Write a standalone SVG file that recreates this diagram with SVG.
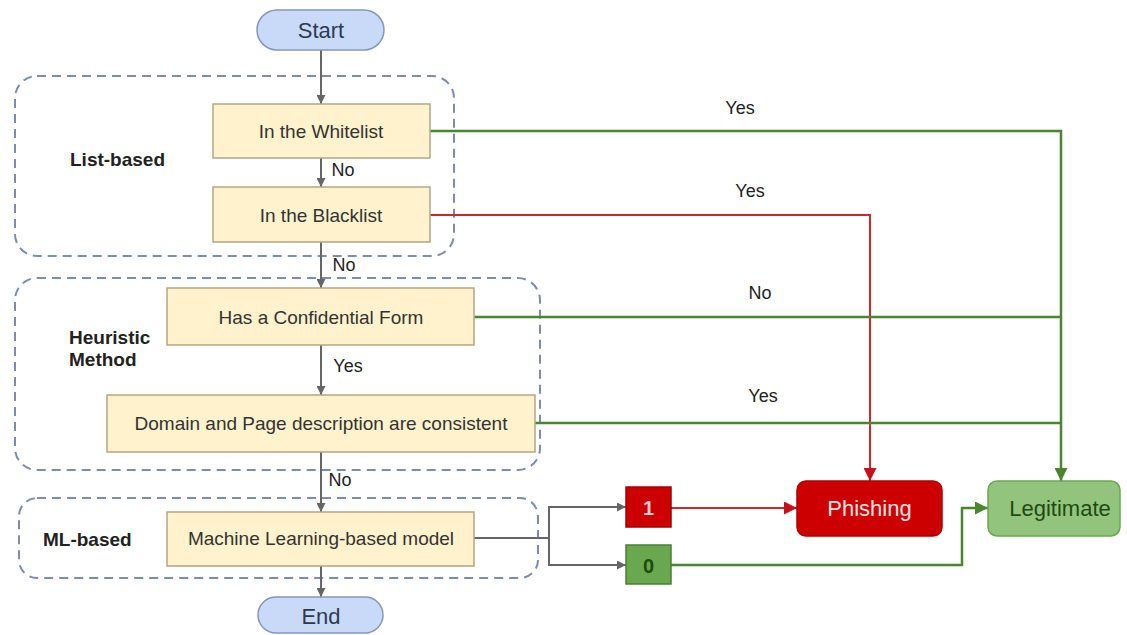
<svg xmlns="http://www.w3.org/2000/svg" width="1127" height="635" viewBox="0 0 1127 635">
  <style>
    text { font-family: "Liberation Sans", Arial, sans-serif; }
    .group { fill: none; stroke: #7d8cab; stroke-width: 2; stroke-dasharray: 9 6; }
    .step { fill: #fff2cc; stroke: #b3a785; stroke-width: 1.5; }
    .term { fill: #c9daf8; stroke: #8496bb; stroke-width: 1.5; }
    .step-text { font-size: 19px; fill: #333; text-anchor: middle; dominant-baseline: central; }
    .term-text { font-size: 22px; fill: #2b3a55; text-anchor: middle; dominant-baseline: central; }
    .group-text { font-size: 19px; font-weight: bold; fill: #222; }
    .label { font-size: 18px; fill: #222; text-anchor: middle; dominant-baseline: central; }
    .flow { fill: none; stroke: #666; stroke-width: 2; }
    .ok { fill: none; stroke: #4a8530; stroke-width: 2.5; }
    .bad { fill: none; stroke: #d3262b; stroke-width: 2; }
  </style>
  <defs>
    <marker id="arrow-gray" viewBox="0 0 10 10" refX="10" refY="5" markerWidth="9" markerHeight="9" markerUnits="userSpaceOnUse" orient="auto">
      <path d="M0,0 L10,5 L0,10 z" fill="#666"/>
    </marker>
    <marker id="arrow-green" viewBox="0 0 10 10" refX="10" refY="5" markerWidth="13" markerHeight="13" markerUnits="userSpaceOnUse" orient="auto">
      <path d="M0,0 L10,5 L0,10 z" fill="#4a8530"/>
    </marker>
    <marker id="arrow-red" viewBox="0 0 10 10" refX="10" refY="5" markerWidth="13" markerHeight="13" markerUnits="userSpaceOnUse" orient="auto">
      <path d="M0,0 L10,5 L0,10 z" fill="#c8101a"/>
    </marker>
  </defs>

  <rect width="1127" height="635" fill="#ffffff"/>

  <!-- dashed method groups -->
  <g id="group-list">
    <rect class="group" x="15" y="76" width="439" height="180" rx="22"/>
    <text class="group-text" x="70" y="166">List-based</text>
  </g>
  <g id="group-heuristic">
    <rect class="group" x="15" y="278" width="525" height="192" rx="22"/>
    <text class="group-text" x="69" y="344">Heuristic</text>
    <text class="group-text" x="69" y="366">Method</text>
  </g>
  <g id="group-ml">
    <rect class="group" x="19" y="498" width="519" height="80" rx="18"/>
    <text class="group-text" x="43" y="546">ML-based</text>
  </g>

  <!-- connectors -->
  <g id="connectors">
    <line class="flow" x1="321" y1="50" x2="321" y2="104" marker-end="url(#arrow-gray)"/>
    <line class="flow" x1="321" y1="158" x2="321" y2="187" stroke-width="1.5" marker-end="url(#arrow-gray)"/>
    <line class="flow" x1="321" y1="242" x2="321" y2="288" stroke-width="1.5" marker-end="url(#arrow-gray)"/>
    <line class="flow" x1="321" y1="345" x2="321" y2="395" stroke-width="1.5" marker-end="url(#arrow-gray)"/>
    <line class="flow" x1="321" y1="452" x2="321" y2="512" stroke-width="1.5" marker-end="url(#arrow-gray)"/>
    <line class="flow" x1="321" y1="566" x2="321" y2="597" marker-end="url(#arrow-gray)"/>

    <!-- outcomes -->
    <polyline class="ok" points="430,131 1061,131 1061,481" marker-end="url(#arrow-green)"/>
    <polyline class="bad" points="430,215 870,215 870,481" marker-end="url(#arrow-red)"/>
    <line class="ok" x1="474" y1="317" x2="1061" y2="317"/>
    <line class="ok" x1="535" y1="423" x2="1061" y2="423"/>

    <!-- model output split -->
    <polyline class="flow" points="474,538 549,538" stroke-width="1.5"/>
    <polyline class="flow" points="626,507 549,507 549,565 626,565" stroke-width="1.5"/>
    <line class="flow" x1="600" y1="507" x2="626" y2="507" stroke-width="1.5" marker-end="url(#arrow-gray)"/>
    <line class="flow" x1="600" y1="565" x2="626" y2="565" stroke-width="1.5" marker-end="url(#arrow-gray)"/>
    <line class="bad" x1="671" y1="508" x2="797" y2="508" stroke-width="2.5" marker-end="url(#arrow-red)"/>
    <polyline class="ok" points="671,565 962,565 962,508 988,508" marker-end="url(#arrow-green)"/>

    <text class="label" x="343" y="170">No</text>
    <text class="label" x="344" y="265">No</text>
    <text class="label" x="348" y="366">Yes</text>
    <text class="label" x="340" y="480">No</text>
    <text class="label" x="740" y="108">Yes</text>
    <text class="label" x="750" y="191">Yes</text>
    <text class="label" x="760" y="293">No</text>
    <text class="label" x="763" y="396">Yes</text>
  </g>

  <!-- terminals -->
  <g id="start">
    <rect class="term" x="257" y="10" width="127" height="40" rx="20"/>
    <text class="term-text" x="321" y="30">Start</text>
  </g>
  <g id="end">
    <rect class="term" x="258" y="597" width="125" height="36" rx="18"/>
    <text class="term-text" x="321" y="616">End</text>
  </g>

  <!-- decision steps -->
  <g id="whitelist">
    <rect class="step" x="213" y="104" width="217" height="54"/>
    <text class="step-text" x="321" y="131">In the Whitelist</text>
  </g>
  <g id="blacklist">
    <rect class="step" x="213" y="187" width="217" height="55"/>
    <text class="step-text" x="321" y="215">In the Blacklist</text>
  </g>
  <g id="confidential-form">
    <rect class="step" x="167" y="288" width="307" height="57"/>
    <text class="step-text" x="321" y="317">Has a Confidential Form</text>
  </g>
  <g id="domain-consistency">
    <rect class="step" x="107" y="395" width="428" height="57"/>
    <text class="step-text" x="321" y="423">Domain and Page description are consistent</text>
  </g>
  <g id="ml-model">
    <rect class="step" x="167" y="512" width="307" height="54"/>
    <text class="step-text" x="321" y="538">Machine Learning-based model</text>
  </g>

  <!-- model outputs -->
  <g id="output-1">
    <rect x="626" y="487" width="45" height="40" fill="#cc0000" stroke="#a30000" stroke-width="1.5"/>
    <text x="648.5" y="508" font-size="20" font-weight="bold" fill="#f4cccc" text-anchor="middle" dominant-baseline="central">1</text>
  </g>
  <g id="output-0">
    <rect x="626" y="545" width="45" height="39" fill="#6aa84f" stroke="#4a7f36" stroke-width="1.5"/>
    <text x="648.5" y="566" font-size="20" font-weight="bold" fill="#1f4a10" text-anchor="middle" dominant-baseline="central">0</text>
  </g>

  <!-- verdicts -->
  <g id="phishing">
    <rect x="797" y="481" width="145" height="55" rx="9" fill="#cc0000" stroke="#b00000" stroke-width="1.5"/>
    <text x="869.5" y="508" font-size="22" fill="#fbe3e3" text-anchor="middle" dominant-baseline="central">Phishing</text>
  </g>
  <g id="legitimate">
    <rect x="988" y="481" width="132" height="55" rx="9" fill="#93c47d" stroke="#6aa84f" stroke-width="1.5"/>
    <text x="1060" y="508" font-size="22" fill="#1f4a10" text-anchor="middle" dominant-baseline="central">Legitimate</text>
  </g>
</svg>
